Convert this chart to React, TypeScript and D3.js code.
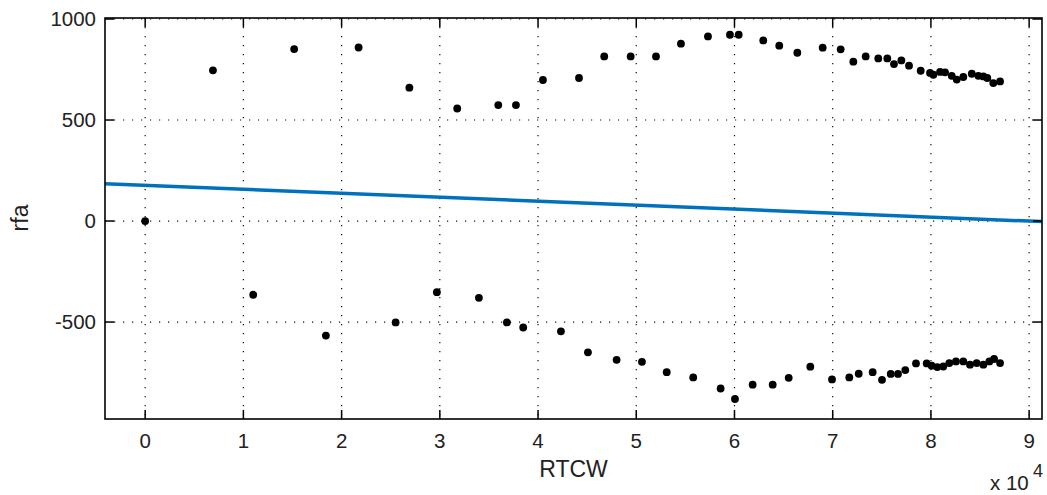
import React from "react";
import * as d3 from "d3";

const upperX = [6900, 15170, 21730, 26900, 31770, 35950, 37750, 40500, 44170, 46740, 49430, 52010, 54550, 57300, 59540, 60430, 62930, 64560, 66400, 68980, 70810, 72100, 73360, 74640, 75560, 76240, 76990, 77770, 78960, 79910, 80250, 80930, 81440, 82120, 82630, 83300, 84160, 84830, 85340, 85740, 86350, 87040];
const upperY = [746, 851, 859, 660, 557, 574, 574, 698, 708, 815, 815, 815, 878, 914, 922, 922, 894, 868, 833, 858, 850, 789, 815, 805, 805, 777, 795, 769, 744, 733, 724, 738, 736, 719, 700, 713, 729, 719, 716, 708, 683, 691];
const lowerX = [0, 11000, 18400, 25500, 29700, 33980, 36830, 38490, 42330, 45080, 48000, 50580, 53100, 55800, 58590, 60050, 61850, 63890, 65520, 67720, 69930, 71690, 72650, 74070, 75020, 75910, 76650, 77390, 78480, 79570, 80080, 80650, 81260, 81870, 82550, 83300, 83980, 84660, 85340, 85950, 86430, 87040];
const lowerY = [0, -365, -567, -502, -352, -380, -502, -527, -546, -650, -687, -697, -748, -774, -829, -881, -810, -810, -776, -721, -784, -774, -756, -748, -786, -757, -757, -738, -705, -705, -716, -723, -720, -703, -695, -695, -711, -703, -711, -695, -683, -703];

const xTicks = [0, 10000, 20000, 30000, 40000, 50000, 60000, 70000, 80000, 90000];
const yTicks = [-500, 0, 500, 1000];
const fitIntercept = 177;
const fitSlope = -0.00197;

const W = 1047, H = 495;
const L = 105, R = 1042, T = 18, B = 419;
const FONT = "'Liberation Sans', Arial, sans-serif";

export default function App() {
  const x = d3.scaleLinear().domain([-4090, 91310]).range([L, R]);
  const y = d3.scaleLinear().domain([-980, 1005]).range([B, T]);
  const pts = [
    ...upperX.map((v, i) => [v, upperY[i]]),
    ...lowerX.map((v, i) => [v, lowerY[i]]),
  ];
  const [x0, x1] = x.domain();
  const line = d3.line<number>().x((d) => x(d)).y((d) => y(fitIntercept + fitSlope * d));
  const tick = 9;
  return (
    <svg width={W} height={H} style={{ position: "absolute", left: 0, top: 0, background: "#fff" }} fontFamily={FONT}>
      <rect x={0} y={0} width={W} height={H} fill="#fff" />
      {/* grid */}
      <g stroke="#111" strokeWidth={1.2} strokeDasharray="1.2 7.8">
        {xTicks.map((t) => (
          <line key={"gx" + t} x1={x(t)} x2={x(t)} y1={T} y2={B} />
        ))}
        {yTicks.map((t) => (
          <line key={"gy" + t} x1={L} x2={R} y1={y(t)} y2={y(t)} />
        ))}
      </g>
      {/* fit line */}
      <path d={line([x0, x1]) || ""} stroke="#0072BD" strokeWidth={3.5} fill="none" />
      {/* points */}
      <g fill="#000">
        {pts.map((p, i) => (
          <circle key={i} cx={x(p[0])} cy={y(p[1])} r={3.9} />
        ))}
      </g>
      {/* box */}
      <rect x={L} y={T} width={R - L} height={B - T} fill="none" stroke="#000" strokeWidth={1.6} />
      {/* ticks */}
      <g stroke="#000" strokeWidth={1.5}>
        {xTicks.map((t) => (
          <g key={"tx" + t}>
            <line x1={x(t)} x2={x(t)} y1={B} y2={B - tick} />
            <line x1={x(t)} x2={x(t)} y1={T} y2={T + tick} />
          </g>
        ))}
        {yTicks.map((t) => (
          <g key={"ty" + t}>
            <line x1={L} x2={L + tick} y1={y(t)} y2={y(t)} />
            <line x1={R} x2={R - tick} y1={y(t)} y2={y(t)} />
          </g>
        ))}
      </g>
      {/* tick labels */}
      <g fontSize={20.5} fill="#222">
        {xTicks.map((t) => (
          <text key={"lx" + t} x={x(t)} y={448} textAnchor="middle">
            {t / 10000}
          </text>
        ))}
        {yTicks.map((t) => (
          <text key={"ly" + t} x={96} y={y(t)} dy="0.36em" textAnchor="end">
            {t}
          </text>
        ))}
        <text x={990} y={490}>x 10</text>
        <text x={1033} y={477} fontSize={18}>4</text>
      </g>
      <text x={(L + R) / 2} y={477} fontSize={23} fill="#222" textAnchor="middle">RTCW</text>
      <text transform={`translate(28, 218) rotate(-90)`} fontSize={23} fill="#222" textAnchor="middle">rfa</text>
    </svg>
  );
}
